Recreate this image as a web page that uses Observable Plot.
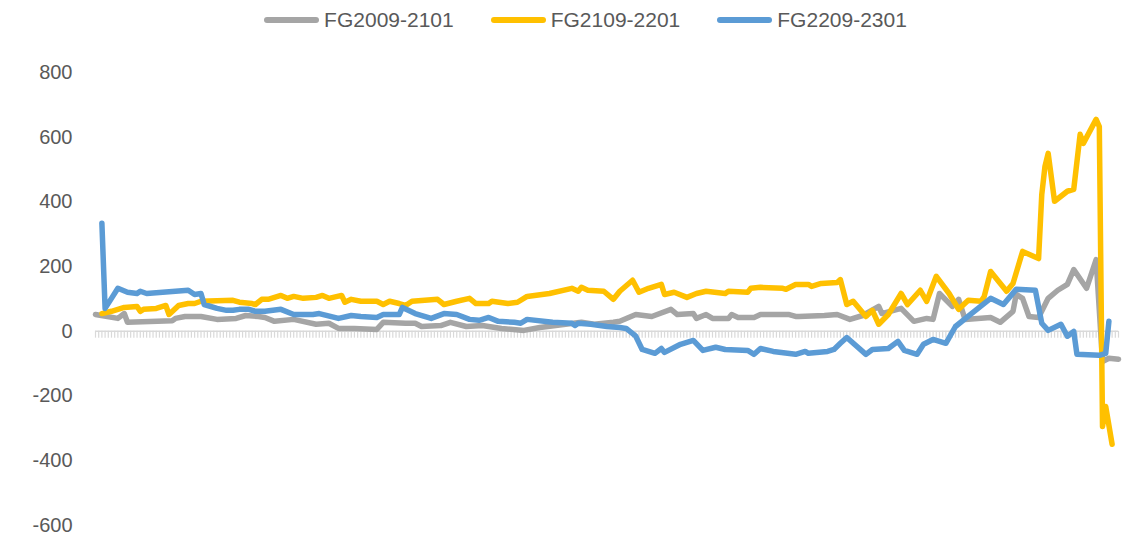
<!DOCTYPE html>
<html>
<head>
<meta charset="utf-8">
<script src="https://cdn.jsdelivr.net/npm/d3@7"></script>
<script src="https://cdn.jsdelivr.net/npm/@observablehq/plot@0.6"></script>
<style>
  html, body { margin: 0; padding: 0; background: #fff; }
  body { width: 1133px; height: 539px; overflow: hidden; font-family: "Liberation Sans", Arial, sans-serif; }
  #legend { height: 36px; display: flex; justify-content: center; align-items: flex-start; padding-left: 38px; box-sizing: border-box; }
  .item { display: flex; align-items: center; margin-top: 8px; height: 24px; margin-right: 37px; font-size: 21px; color: #595959; }
  .item:last-child { margin-right: 0; }
  .sw { width: 55px; height: 6px; border-radius: 3px; margin-right: 5px; }
</style>
</head>
<body>
<div id="legend"></div>
<div id="chart"></div>
<script>
// Series names and colours
const seriesNames = ["FG2009-2101", "FG2109-2201", "FG2209-2301"];
const seriesColors = ["#A5A5A5", "#FFC000", "#5B9BD5"];

// Category count along the x axis (tick marks)
const categoryCount = 320;

// Y tick values
const yTicks = [-600, -400, -200, 0, 200, 400, 600, 800];

// [category index, value]
const fg2009 = [
  [0,52],[7,40],[9,55],[10,28],[24,33],[25,40],[28,46],[33,46],[38,37],[44,40],[47,49],[51,46],
  [53,43],[56,31],[62,37],[69,22],[73,25],[76,9],[81,9],[88,6],[90,28],[97,25],[100,25],[102,15],
  [108,18],[111,28],[116,15],[121,18],[127,9],[134,3],[139,12],[152,28],[156,22],[162,28],[164,31],
  [169,52],[174,46],[180,68],[182,52],[187,55],[188,40],[191,52],[193,40],[198,40],[199,52],[201,43],
  [206,43],[208,52],[217,52],[219,46],[220,46],[228,49],[232,52],[236,37],[240,49],[245,77],[246,55],
  [252,71],[256,31],[260,40],[262,37],[264,117],[268,77],[270,99],[272,37],[280,43],[283,28],[287,62],
  [288,114],[290,102],[292,46],[295,43],[298,102],[301,127],[304,145],[306,191],[310,133],[313,222],
  [315,-93],[317,-83],[320,-86]
];
const fg2109 = [
  [2,55],[5,62],[9,74],[13,77],[14,62],[15,68],[19,71],[22,80],[23,52],[26,80],[29,86],[31,86],
  [33,93],[43,96],[45,90],[49,86],[50,83],[52,99],[54,99],[58,111],[60,102],[62,108],[65,102],
  [69,105],[71,111],[73,102],[77,111],[78,90],[80,99],[83,93],[88,93],[90,83],[92,93],[95,86],
  [97,80],[99,93],[107,99],[109,83],[113,93],[117,102],[119,86],[123,86],[124,93],[129,86],[132,90],
  [135,108],[142,117],[149,133],[151,124],[152,136],[154,127],[159,124],[162,99],[164,124],[168,158],
  [170,121],[173,133],[177,145],[178,114],[181,121],[185,105],[188,117],[191,124],[197,117],[198,124],
  [204,121],[205,133],[208,136],[215,133],[216,130],[219,145],[223,145],[224,139],[227,148],[232,151],
  [233,160],[235,83],[237,93],[241,46],[243,65],[245,22],[248,52],[252,117],[254,83],[258,127],
  [260,93],[263,170],[267,117],[270,68],[273,96],[277,93],[278,108],[280,185],[285,124],[287,148],
  [290,247],[295,225],[296,423],[297,510],[298,550],[300,402],[304,433],[306,439],[308,609],[309,581],
  [313,655],[314,633],[315,-294],[316,-232],[318,-349]
];
const fg2209 = [
  [2,334],[3,71],[5,102],[7,133],[10,121],[13,117],[14,124],[16,117],[29,127],[31,114],[33,117],
  [34,83],[38,71],[41,65],[43,65],[45,68],[48,68],[50,62],[53,62],[58,68],[62,52],[68,52],[70,55],
  [76,40],[80,49],[83,46],[88,43],[90,52],[95,52],[96,74],[100,55],[105,40],[109,55],[113,52],
  [117,37],[120,34],[123,43],[126,31],[131,28],[133,25],[135,37],[143,28],[149,25],[150,18],[151,25],
  [155,22],[160,15],[164,12],[166,9],[169,-15],[171,-56],[175,-68],[177,-53],[178,-65],[183,-40],
  [187,-28],[190,-59],[194,-49],[197,-56],[204,-59],[206,-71],[208,-53],[212,-62],[219,-71],[222,-62],
  [223,-68],[229,-62],[231,-56],[233,-37],[235,-19],[241,-71],[243,-56],[248,-53],[251,-31],[253,-59],
  [257,-71],[259,-40],[262,-25],[266,-37],[269,15],[274,55],[280,102],[284,83],[288,130],[294,127],
  [296,25],[298,3],[302,22],[304,-15],[306,0],[307,-71],[314,-74],[316,-68],[317,31]
];

const seriesData = [fg2009, fg2109, fg2209];
const rows = seriesData.flatMap((s, k) => s.map(([i, v]) => ({series: seriesNames[k], i, v})));

// Legend
const legend = document.getElementById("legend");
seriesNames.forEach((name, k) => {
  const it = document.createElement("div");
  it.className = "item";
  const sw = document.createElement("div");
  sw.className = "sw";
  sw.style.background = seriesColors[k];
  const tx = document.createElement("span");
  tx.textContent = name;
  it.appendChild(sw); it.appendChild(tx);
  legend.appendChild(it);
});

const ticks = d3.range(0, categoryCount + 1);

const chart = Plot.plot({
  width: 1133,
  height: 503,
  marginTop: 36,
  marginBottom: 14,
  marginLeft: 95,
  marginRight: 15,
  style: {fontFamily: "'Liberation Sans', Arial, sans-serif", fontSize: "20px", color: "#595959", background: "#fff"},
  x: {domain: [0, categoryCount], axis: null},
  y: {domain: [-600, 800], ticks: yTicks, tickFormat: d => String(d), label: null},
  color: {domain: seriesNames, range: seriesColors},
  marks: [
    Plot.axisY({ticks: yTicks, tickFormat: d => String(d), tickSize: 0, tickPadding: 23, label: null, fontSize: 20}),
    Plot.ruleX(ticks, {x: d => d, y1: 0, y2: -21, stroke: "#d9d9d9", strokeWidth: 1.2}),
    Plot.ruleY([0], {stroke: "#d9d9d9", strokeWidth: 1.5}),
    Plot.line(rows, {x: "i", y: "v", z: "series", stroke: "series", strokeWidth: 5.5, strokeLinejoin: "round", strokeLinecap: "round"})
  ]
});
document.getElementById("chart").appendChild(chart);
</script>
</body>
</html>
